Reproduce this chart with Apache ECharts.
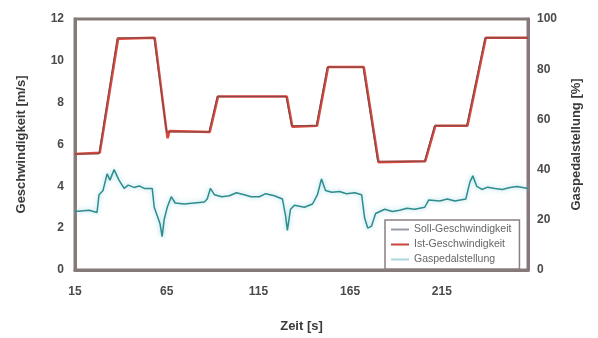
<!DOCTYPE html>
<html>
<head>
<meta charset="utf-8">
<script src="https://cdn.jsdelivr.net/npm/echarts@6/dist/echarts.min.js"></script>
<style>
html,body{margin:0;padding:0;background:#fff;}
#chart{width:598px;height:338px;}
</style>
</head>
<body>
<div id="chart"></div>
<script>
// Zeit [s] and speed profile (m/s)
var sollTime  = [15, 28, 38, 58, 65, 88, 92.5, 130, 133, 146.5, 152.5, 172, 180, 205.5, 211, 228.5, 238.5, 262];
var sollSpeed = [5.55, 5.55, 11.1, 11.1, 6.6, 6.6, 8.3, 8.3, 6.9, 6.9, 9.7, 9.7, 5.2, 5.2, 6.9, 6.9, 11.1, 11.1];

var istTime  = [15, 28.5, 38.5, 58.5, 64.5, 65.5, 66.5, 88.5, 93, 130.5, 133.5, 147, 153, 172.5, 180.5, 206, 211.5, 229, 239, 262];
var istSpeed = [5.55, 5.6, 11.05, 11.1, 6.9, 6.3, 6.65, 6.6, 8.3, 8.3, 6.85, 6.9, 9.7, 9.7, 5.15, 5.2, 6.9, 6.9, 11.1, 11.1];

// Gaspedalstellung [%]
var gasTime = [15, 22.7, 27, 28.1, 30.3, 32.5, 34.1, 36.3, 39, 41.8, 44, 47.2, 50, 52.7, 57.1, 58.2, 59.8, 61.4, 62.5, 63.6, 65.3, 67.5, 69.6, 74.6, 80, 85.5, 87.1, 88.8, 91, 95, 99.2, 103, 107.3, 111, 115.5, 119, 123.7, 128.1, 129.8, 130.8, 132.5, 134.7, 140.1, 144.5, 147.2, 149.4, 151.6, 155, 159.3, 163, 167.5, 171.3, 172.9, 174.6, 176.7, 178.9, 183.9, 188, 192, 196, 200.2, 205.7, 207.9, 213.9, 218, 222.1, 228.1, 230.3, 231.9, 234.1, 236.9, 240, 244, 248, 252.2, 256, 262];
var gasValue = [23.3, 23.8, 22.9, 30, 31.7, 38.3, 35.8, 40, 35.8, 32.5, 33.8, 32.9, 33.5, 32.5, 32.5, 25, 21.7, 18.3, 13.3, 20, 25, 29.2, 26.7, 26.3, 26.7, 27.1, 28.3, 32.5, 30, 29.2, 29.6, 30.8, 30, 29.2, 29.2, 30.4, 29.6, 28.3, 21.7, 15.8, 24.2, 25.8, 25, 26.3, 30, 36.3, 31.7, 31, 31.3, 30.4, 30.8, 30, 20.8, 16.7, 17.5, 22.5, 24.2, 23.3, 23.8, 24.6, 24.2, 25, 27.9, 27.5, 28.3, 27.5, 28.3, 35, 37.5, 33.3, 32.1, 33, 32.5, 32.1, 32.9, 33.3, 32.5];

var xTicks = [15, 65, 115, 165, 215];

function pairs(t, v){ return t.map(function(x, i){ return [x, v[i]]; }); }

var labelStyle = {color:'#4a4a4a', fontSize:12, fontFamily:'Liberation Sans, Arial, sans-serif', fontWeight:'bold'};
var nameStyle = {color:'#3a3a3a', fontSize:13, fontFamily:'Liberation Sans, Arial, sans-serif', fontWeight:'bold'};

var chart = echarts.init(document.getElementById('chart'), null, {renderer:'canvas'});
chart.setOption({
  animation:false,
  backgroundColor:'#ffffff',
  grid:{left:75, right:70, top:19, bottom:63, show:true, borderColor:'#857a78', borderWidth:3, backgroundColor:'#ffffff'},
  legend:{
    orient:'vertical', left:385, top:220,
    backgroundColor:'#ffffff', borderColor:'#8a8080', borderWidth:1.5,
    padding:[4,8,4,6], itemGap:4, itemWidth:18, itemHeight:2, icon:'rect',
    textStyle:{color:'#666', fontSize:10.5, fontFamily:'Liberation Sans, Arial, sans-serif'},
    data:['Soll-Geschwindigkeit','Ist-Geschwindigkeit','Gaspedalstellung']
  },
  xAxis:{
    type:'value', min:15, max:262, interval:50,
    name:'Zeit [s]', nameLocation:'middle', nameGap:50, nameTextStyle:nameStyle,
    axisLine:{show:true, lineStyle:{color:'#857a78', width:3}},
    axisTick:{show:false},
    axisLabel:Object.assign({margin:16, showMaxLabel:false, formatter:function(v){ return xTicks.indexOf(v) >= 0 ? String(v) : ''; }}, labelStyle),
    splitLine:{show:false}
  },
  yAxis:[{
    type:'value', min:0, max:12, interval:2,
    name:'Geschwindigkeit [m/s]', nameLocation:'middle', nameGap:47, nameRotate:90, nameTextStyle:nameStyle,
    axisLine:{show:true, lineStyle:{color:'#857a78', width:3}},
    axisTick:{show:false},
    axisLabel:Object.assign({margin:11}, labelStyle),
    splitLine:{show:false}
  },{
    type:'value', min:0, max:100, interval:20, position:'right',
    name:'Gaspedalstellung [%]', nameLocation:'middle', nameGap:42, nameRotate:90, nameTextStyle:nameStyle,
    axisLine:{show:true, lineStyle:{color:'#857a78', width:3}},
    axisTick:{show:false},
    axisLabel:Object.assign({margin:9}, labelStyle),
    splitLine:{show:false}
  }],
  series:[{
    name:'Ist-Geschwindigkeit', type:'line', yAxisIndex:0, symbol:'none',
    data:pairs(istTime, istSpeed),
    lineStyle:{color:'#d9473d', width:2.5}, itemStyle:{color:'#c9453c'}, z:2
  },{
    name:'Soll-Geschwindigkeit', type:'line', yAxisIndex:0, symbol:'none',
    data:pairs(sollTime, sollSpeed),
    lineStyle:{color:'#7a4a48', width:1}, itemStyle:{color:'#9a9aa8'}, z:3
  },{
    name:'Gaspedalstellung', type:'line', yAxisIndex:1, symbol:'none',
    data:pairs(gasTime, gasValue),
    lineStyle:{color:'#2f8c8c', width:1.5, shadowColor:'rgba(120,200,220,0.8)', shadowBlur:5}, itemStyle:{color:'#a9d6de'}, z:2
  }]
});
</script>
</body>
</html>
